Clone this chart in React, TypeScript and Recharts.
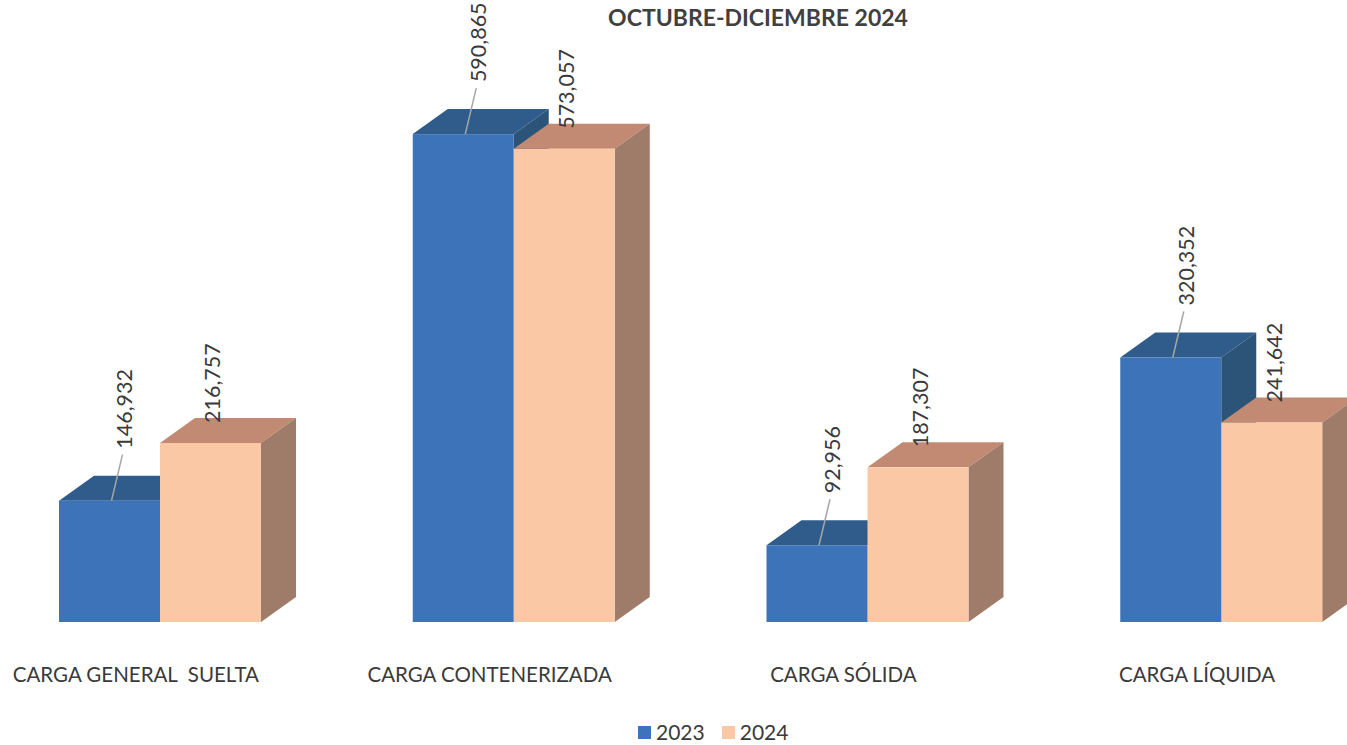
import React from 'react';
import { BarChart, Bar, XAxis, YAxis, Legend, LabelList } from 'recharts';

// Carga movilizada, octubre-diciembre
const categories = ['CARGA GENERAL  SUELTA', 'CARGA CONTENERIZADA', 'CARGA SÓLIDA', 'CARGA LÍQUIDA'];
const values2023 = [146932, 590865, 92956, 320352];
const values2024 = [216757, 573057, 187307, 241642];
const yTicks = [0, 700000];

const data = categories.map((name, i) => ({ name, y2023: values2023[i], y2024: values2024[i] }));

const DX = 35;
const DY = 25;
const FONT = 'Lato, "Open Sans", sans-serif';

const colors = {
  y2023: { front: '#3d73b9', top: '#2f5c8b', side: '#2c5479' },
  y2024: { front: '#fbc8a6', top: '#c28a72', side: '#9f7b69' },
};

const make3D = (c: { front: string; top: string; side: string }) => (props: any) => {
  const { x, y, width, height } = props;
  if (!height) return null;
  const r = x + width;
  const b = y + height;
  return (
    <g>
      <polygon points={`${x},${y} ${x + DX},${y - DY} ${r + DX},${y - DY} ${r},${y}`} fill={c.top} />
      <polygon points={`${r},${y} ${r + DX},${y - DY} ${r + DX},${b - DY} ${r},${b}`} fill={c.side} />
      <rect x={x} y={y} width={width} height={height} fill={c.front} />
    </g>
  );
};

const fmt = (v: number) => v.toLocaleString('en-US');

const label2023 = (props: any) => {
  const { x, y, width, value } = props;
  const cx = x + width / 2;
  const tx = cx + 15;
  const ty = y - 52;
  return (
    <g>
      <line x1={cx + 2} y1={y} x2={cx + 13} y2={y - 46} stroke="#a6a6a6" strokeWidth={1.5} />
      <text x={tx} y={ty} transform={`rotate(-90 ${tx} ${ty})`} textAnchor="start" dominantBaseline="central"
        fontSize={21.5} fontFamily={FONT} fill="#3a3a3a">{fmt(value)}</text>
    </g>
  );
};

const label2024 = (props: any) => {
  const { x, y, width, value } = props;
  const tx = x + width / 2 + 2;
  const ty = y - 20;
  return (
    <text x={tx} y={ty} transform={`rotate(-90 ${tx} ${ty})`} textAnchor="start" dominantBaseline="central"
      fontSize={21.5} fontFamily={FONT} fill="#3a3a3a">{fmt(value)}</text>
  );
};

const CategoryTick = (props: any) => {
  const { x, y, payload } = props;
  return (
    <text x={x - 24} y={y + 44} textAnchor="middle" dominantBaseline="central" fontSize={20.5}
      fontFamily={FONT} fill="#3a3a3a" style={{ whiteSpace: 'pre' }}>{payload.value}</text>
  );
};

const LegendBox = () => (
  <div style={{ display: 'flex', alignItems: 'center', fontFamily: FONT, fontSize: 21, lineHeight: '24px', color: '#3a3a3a' }}>
    <span style={{ width: 13, height: 13, background: colors.y2023.front, marginRight: 5 }} />
    <span style={{ marginRight: 17 }}>2023</span>
    <span style={{ width: 13, height: 13, background: colors.y2024.front, marginRight: 5 }} />
    <span>2024</span>
  </div>
);

export default function App() {
  return (
    <div style={{ position: 'absolute', left: 0, top: 0, width: 1347, height: 745, background: '#fff', overflow: 'hidden' }}>
      <div style={{ position: 'absolute', left: 0, width: 1516, top: 3, textAlign: 'center', fontFamily: FONT,
        fontWeight: 700, fontSize: 23, color: '#404040' }}>
        OCTUBRE-DICIEMBRE 2024
      </div>
      <BarChart width={1347} height={745} data={data} barGap={0}
        margin={{ top: 44, right: -51, left: -17, bottom: 0 }}>
        <XAxis dataKey="name" axisLine={false} tickLine={false} height={99} tick={<CategoryTick />} interval={0} />
        <YAxis hide domain={[yTicks[0], yTicks[1]]} />
        <Legend content={<LegendBox />} height={24} wrapperStyle={{ left: 638, top: 720, width: 200 }} />
        <Bar dataKey="y2023" name="2023" barSize={101} fill={colors.y2023.front} shape={make3D(colors.y2023)} isAnimationActive={false}>
          <LabelList dataKey="y2023" content={label2023} />
        </Bar>
        <Bar dataKey="y2024" name="2024" barSize={101} fill={colors.y2024.front} shape={make3D(colors.y2024)} isAnimationActive={false}>
          <LabelList dataKey="y2024" content={label2024} />
        </Bar>
      </BarChart>
    </div>
  );
}
